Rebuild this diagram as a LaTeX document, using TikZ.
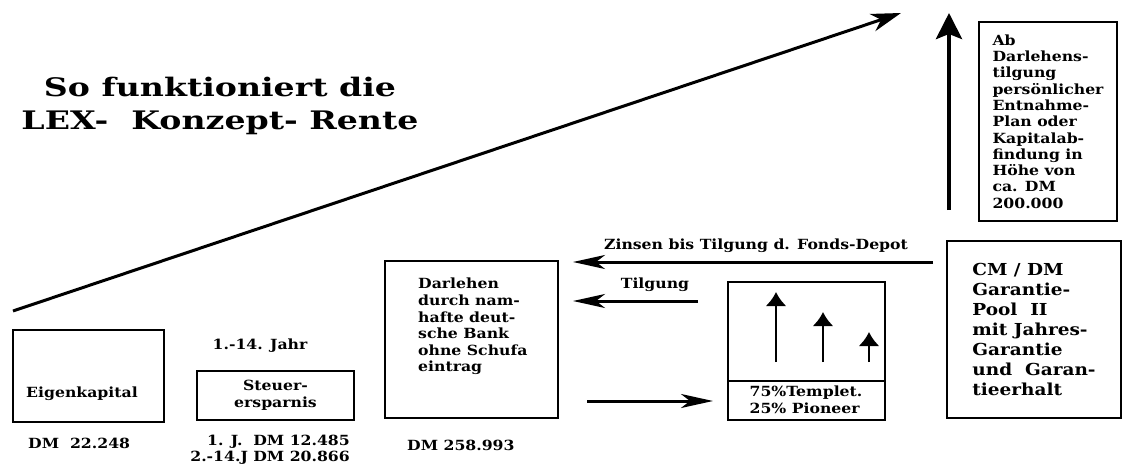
\documentclass[tikz,border=0pt]{standalone}
\usepackage{fontspec}
\setmainfont{DejaVu Serif}[FakeStretch=1.12]
\newfontfamily\titlefont{DejaVu Serif}[FakeStretch=1.3]
\usetikzlibrary{arrows.meta}

\begin{document}
\begin{tikzpicture}[x=1pt, y=-1pt,
box/.style={draw=black, line width=1.7pt, inner sep=0pt},
txt/.style={font=\bfseries\fontsize{14}{16.6}\selectfont, inner sep=0pt},
title/.style={font=\titlefont\bfseries\fontsize{25.5}{33}\selectfont, inner sep=0pt, align=center},
rise/.style={line width=3pt, -{Stealth[length=30pt, width=18pt, inset=9pt]}},
upward/.style={line width=4.5pt, -{Stealth[length=26pt, width=26pt, inset=5pt]}},
flow/.style={line width=3pt, -{Stealth[length=32pt, width=14pt, inset=9pt]}},
small/.style={line width=2.5pt, -{Latex[length=14pt, width=21pt]}}
]
    \useasboundingbox[fill=white] (0,0) rectangle (1123,465);

    \node [title] (title) at (220,106) {So funktioniert die\\LEX-~~Konzept- Rente};

    \coordinate (riseA) at (13,311);
    \coordinate (riseB) at (901,13);
    \coordinate (upA) at (949,210);
    \coordinate (upB) at (949,13);

    \node [box, txt, align=left, font=\bfseries\fontsize{14}{16.3}\selectfont, minimum width=138pt, minimum height=199pt] (abbox) at (1048,121.5)
      {Ab\\Darlehens-\\tilgung\\persönlicher\\Entnahme-\\Plan oder\\Kapitalab-\\findung in\\Höhe von\\ca. DM\\200.000};

    \node [box, minimum width=151pt, minimum height=92pt] (eigen) at (88.5,376) {};
    \node [txt] (eigentxt) at (82,394) {Eigenkapital};
    \node [txt, anchor=west] (eigenwert) at (28,443) {DM~~22.248};

    \node [txt] (jahr) at (260,346) {1.-14. Jahr};
    \node [box, txt, align=center, minimum width=157pt, minimum height=49pt] (steuer) at (275.5,395.5) {Steuer-\\ersparnis};
    \node [txt, anchor=north east, align=right, font=\bfseries\fontsize{14}{15.5}\selectfont] (steuerwert) at (350,435)
      {1. J.~~DM 12.485\\2.-14.J DM 20.866};

    \node [box, minimum width=173pt, minimum height=157pt] (darl) at (471.5,339.5) {};
    \node [txt, anchor=north west, align=left] (darltxt) at (418,278)
      {Darlehen\\durch nam-\\hafte deut-\\sche Bank\\ohne Schufa\\eintrag};
    \node [txt, anchor=west] (darlwert) at (407,445) {DM 258.993};

    \node [box, minimum width=157pt, minimum height=138pt] (fonds) at (806.5,351) {};
    \draw [line width=1.4pt] (fonds.west |- 0,381) -- (fonds.east |- 0,381);
    \node [txt, align=left] (fondstxt) at (806,400) {75\%Templet.\\25\% Pioneer};

    \node [box, align=left, font=\bfseries\fontsize{16.5}{20}\selectfont, minimum width=174pt, minimum height=177pt] (cm) at (1034,329.5)
      {CM / DM\\Garantie-\\Pool~~II\\mit Jahres-\\Garantie\\und~~Garan-\\tieerhalt};

    \coordinate (zinsA) at (933,262);
    \coordinate (zinsB) at (573,262);
    \node [txt] (zinstxt) at (756,246) {Zinsen bis Tilgung d. Fonds-Depot};

    \coordinate (tilgA) at (698,301);
    \coordinate (tilgB) at (573,301);
    \node [txt] (tilgtxt) at (655,285) {Tilgung};

    \coordinate (kaufA) at (587,401);
    \coordinate (kaufB) at (713,401);

    \coordinate (p1) at (776,362);
    \coordinate (q1) at (776,292);
    \coordinate (p2) at (823,362);
    \coordinate (q2) at (823,312);
    \coordinate (p3) at (869,362);
    \coordinate (q3) at (869,332);

    \draw [rise] (riseA) -- (riseB);
    \draw [upward] (upA) -- (upB);
    \draw [flow] (zinsA) -- (zinsB);
    \draw [flow] (tilgA) -- (tilgB);
    \draw [flow] (kaufA) -- (kaufB);
    \draw [small] (p1) -- (q1);
    \draw [small] (p2) -- (q2);
    \draw [small] (p3) -- (q3);

\end{tikzpicture}
\end{document}
